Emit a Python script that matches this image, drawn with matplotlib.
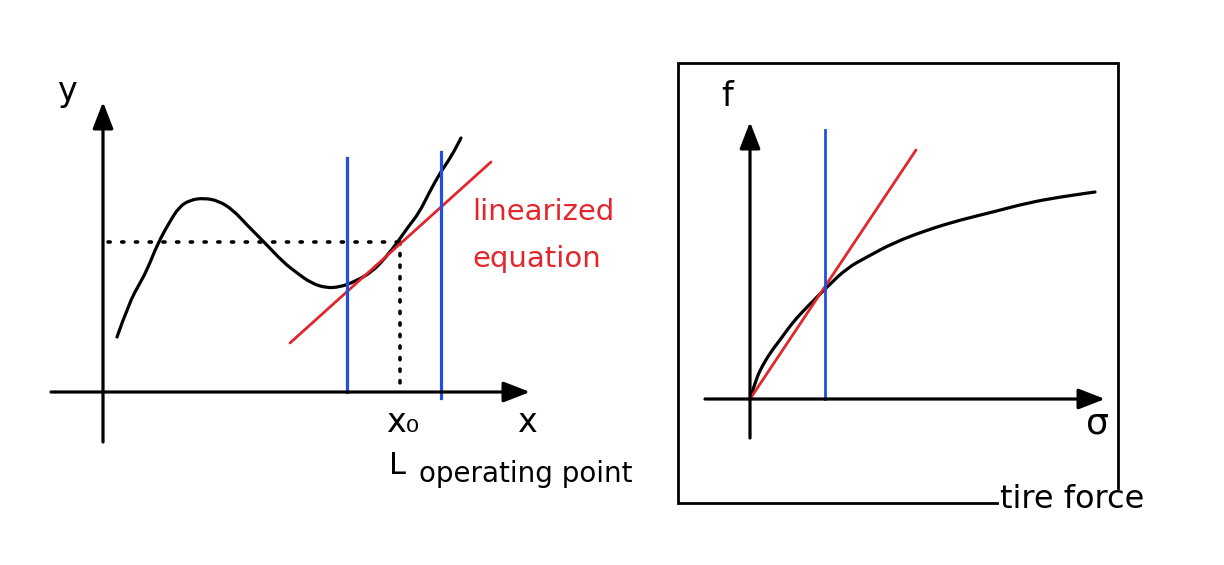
import matplotlib
matplotlib.use("Agg")
import matplotlib.pyplot as plt
from matplotlib.path import Path
from matplotlib.patches import PathPatch

# ---------------- data (left panel: nonlinear function) ----------------
left_curve_x = [14, 26, 37, 44, 55, 66, 76, 87, 101, 116, 130, 144, 162, 180,
                194, 208, 223, 237, 251, 269, 283, 294, 305, 316, 326, 337, 348, 358]
left_curve_y = [55, 89, 109, 122, 149, 169, 185, 192, 194, 191, 182, 167, 149, 130,
                119, 109, 104, 105, 110, 120, 135, 149, 165, 179, 199, 219, 235, 254]
op_point = (297, 150)                       # operating point (x0, y0)
left_tangent_x = [187, 388]
left_tangent_y = [49, 230]
left_bounds_x = [244, 338]                  # blue vertical lines
left_bounds_top = [234, 240]
left_bounds_bottom = [0, -6]

# ---------------- data (right panel: tire force) ----------------
right_curve_x = [0, 5, 10, 20, 30, 43, 57, 77, 97, 117, 143, 177, 210, 243, 277, 310, 345]
right_curve_y = [0, 16, 29, 46, 59, 77, 92, 112, 131, 142, 156, 169, 179, 187, 196, 202, 207]
right_tangent_x = [0, 166]
right_tangent_y = [0, 249]
right_bound_x = 75
right_bound_top = 269
box_x = [247, -72, -72, 368, 368]
box_y = [-104, -104, 336, 336, -89]

BLACK = "#000000"
RED = "#e3262b"
BLUE = "#2150e0"


def smooth_curve(ax, xs, ys, **kw):
    """Quadratic-Bezier path using the points as control points."""
    pts = list(zip(xs, ys))
    verts = [pts[0]]
    codes = [Path.MOVETO]
    for i in range(1, len(pts) - 1):
        mid = ((pts[i][0] + pts[i + 1][0]) / 2, (pts[i][1] + pts[i + 1][1]) / 2)
        verts += [pts[i], mid]
        codes += [Path.CURVE3, Path.CURVE3]
    verts.append(pts[-1])
    codes.append(Path.LINETO)
    ax.add_patch(PathPatch(Path(verts, codes), fill=False, capstyle="round",
                           joinstyle="round", **kw))


fig = plt.figure(figsize=(12.24, 5.65), dpi=100)
fig.patch.set_facecolor("white")

# left axes: 1 data unit = 1 pixel, origin at axis crossing
axL = fig.add_axes([0, 0, 650 / 1224, 1])
axL.set_xlim(-103, 547)
axL.set_ylim(-173, 392)
axL.axis("off")

# right axes
axR = fig.add_axes([650 / 1224, 0, 574 / 1224, 1])
axR.set_xlim(-100, 474)
axR.set_ylim(-166, 399)
axR.axis("off")

arrow_kw = dict(arrowstyle="-|>,head_length=0.9,head_width=0.35", lw=2.3,
                color=BLACK, mutation_scale=18, shrinkA=0, shrinkB=0)

# ---- left panel ----
axL.annotate("", xy=(0, 290), xytext=(0, -50), arrowprops=arrow_kw)
axL.annotate("", xy=(427, 0), xytext=(-52, 0), arrowprops=arrow_kw)

axL.plot([5, op_point[0]], [op_point[1], op_point[1]], color=BLACK, lw=2.6,
         linestyle=(0, (0.6, 3.2)), dash_capstyle="round")
axL.plot([op_point[0], op_point[0]], [op_point[1], 0], color=BLACK, lw=2.6,
         linestyle=(0, (0.6, 2.6)), dash_capstyle="round")

smooth_curve(axL, left_curve_x, left_curve_y, edgecolor=BLACK, lw=2.3)
axL.plot(left_tangent_x, left_tangent_y, color=RED, lw=2.0, solid_capstyle="round")
for bx, bt, bb in zip(left_bounds_x, left_bounds_top, left_bounds_bottom):
    axL.plot([bx, bx], [bb, bt], color=BLUE, lw=2.3)

axL.text(-36, 300, "y", fontsize=24, ha="center", va="center", color=BLACK)
axL.text(424, -31, "x", fontsize=24, ha="center", va="center", color=BLACK)
axL.text(300, -31, "x₀", fontsize=24, ha="center", va="center", color=BLACK)
axL.text(369, 180, "linearized", fontsize=21, ha="left", va="center", color=RED)
axL.text(369, 133, "equation", fontsize=21, ha="left", va="center", color=RED)
axL.text(294, -73, "L", fontsize=22, ha="center", va="center", color=BLACK)
axL.text(316, -82, "operating point", fontsize=20, ha="left", va="center", color=BLACK)

# ---- right panel ----
axR.plot(box_x, box_y, color=BLACK, lw=2.0, solid_joinstyle="miter")
axR.annotate("", xy=(0, 277), xytext=(0, -39), arrowprops=arrow_kw)
axR.annotate("", xy=(355, 0), xytext=(-45, 0), arrowprops=arrow_kw)

smooth_curve(axR, right_curve_x, right_curve_y, edgecolor=BLACK, lw=2.3)
axR.plot(right_tangent_x, right_tangent_y, color=RED, lw=2.0, solid_capstyle="round")
axR.plot([right_bound_x, right_bound_x], [0, right_bound_top], color=BLUE, lw=2.0)

axR.text(-23, 302, "f", fontsize=24, ha="center", va="center", color=BLACK)
axR.text(347, -24, "σ", fontsize=26, ha="center", va="center", color=BLACK)
axR.text(250, -101, "tire force", fontsize=23, ha="left", va="center", color=BLACK)

fig.savefig("out.png", dpi=100, facecolor="white")
